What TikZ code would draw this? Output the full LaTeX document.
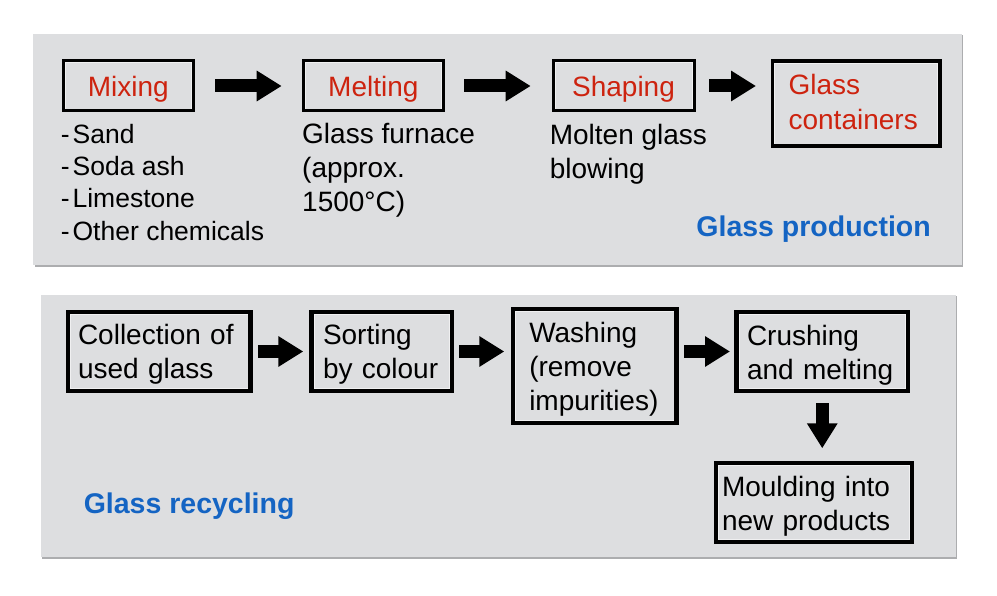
\documentclass[tikz,border=0pt]{standalone}
\usepackage{fontspec}
\setmainfont{Liberation Sans}
\usetikzlibrary{arrows.meta}
\definecolor{panelgray}{RGB}{221,222,224}
\definecolor{shadegray}{RGB}{172,173,175}
\definecolor{stagered}{RGB}{205,35,15}
\definecolor{titleblue}{RGB}{20,100,195}
\tikzset{
  rim/.style={path picture={\draw[white!55!panelgray, line width=0.8pt] ([shift={(#1,#1)}]path picture bounding box.south west) rectangle ([shift={(-#1,-#1)}]path picture bounding box.north east);}},
  stage/.style={draw, line width=4.4pt, inner ysep=0pt, text depth=32pt, align=left, font=\fontsize{28}{34}\selectfont, rim=2.6pt},
  topstage/.style={stage, line width=3pt, rim=1.9pt, text depth=0pt, text=stagered, align=center},
  desc/.style={anchor=north west, inner sep=0pt, align=left, font=\fontsize{28}{34}\selectfont},
  title/.style={inner sep=0pt, text=titleblue, font=\fontsize{28.5}{34}\selectfont\bfseries},
  flow/.style={line width=13pt, -{Triangle[length=25pt,width=29pt]}}
}
\begin{document}
\begin{tikzpicture}[line cap=butt,line join=miter,x=1pt,y=-1pt]
\useasboundingbox (0,0) rectangle (997,596);
\fill[shadegray] (34.8,35.5) rectangle (963,267.5);
\fill[panelgray] (33.3,34) rectangle (961.5,265.5);
\fill[shadegray] (42,296.5) rectangle (957,558.5);
\fill[panelgray] (40.5,295) rectangle (955.5,557);

\node[topstage, minimum width=130.5pt, minimum height=50pt] (mix) at (128.25,86) {Mixing};
\node[topstage, minimum width=139.3pt, minimum height=50pt] (melt) at (373.35,86) {Melting};
\node[topstage, minimum width=141pt, minimum height=50pt] (shape) at (623.5,86) {Shaping};
\node[topstage, line width=3.6pt, rim=2.2pt, align=left, font=\fontsize{28}{35}\selectfont, text depth=37.7pt, minimum width=167.4pt, minimum height=85.3pt, text width=134.8pt, inner xsep=16.3pt] (cont) at (856,103.65) {Glass\\containers};
\node[desc, font=\fontsize{26.5}{32.2}\selectfont] (mixlist) at (60.6,124) {-\hspace{3pt}Sand\\-\hspace{3pt}Soda ash\\-\hspace{3pt}Limestone\\-\hspace{3pt}Other chemicals};
\node[desc] (meltdesc) at (302,123) {Glass furnace\\(approx.\\1500°C)};
\node[desc] (shapedesc) at (549.6,124) {Molten glass\\blowing};
\node[title, anchor=base east] (prodtitle) at (931,237) {Glass production};

\draw[flow, shorten <=20pt, shorten >=20.5pt] (mix) -- (melt);
\draw[flow, shorten <=19.5pt, shorten >=20.8pt] (melt) -- (shape);
\draw[flow, shorten <=13.8pt, shorten >=14.5pt] (shape.east) -- (shape.east -| cont.west);

\node[stage, minimum width=182.5pt, minimum height=79pt, text width=162.5pt, inner xsep=10pt, text depth=33.4pt] (coll) at (159.25,351.5) {Collection of\\used glass};
\node[stage, minimum width=140.4pt, minimum height=79pt, text width=117pt, inner xsep=11.7pt, text depth=33.4pt] (sort) at (381.5,351.5) {Sorting\\by colour};
\node[stage, minimum width=163.5pt, minimum height=114pt, text width=131pt, inner xsep=16.25pt, text depth=66.4pt] (wash) at (594.75,366) {Washing\\(remove\\impurities)};
\node[stage, minimum width=171.5pt, minimum height=79pt, text width=150.5pt, inner xsep=10.5pt, text depth=31.4pt] (crush) at (822.25,351.5) {Crushing\\and melting};
\node[stage, minimum width=195.9pt, minimum height=79pt, text width=183.5pt, inner xsep=6.2pt, text depth=31.4pt] (mould) at (813.75,502.5) {Moulding into\\new products};
\node[title, anchor=base west] (rectitle) at (83.6,513.5) {Glass recycling};

\draw[flow, shorten <=5.6pt, shorten >=5.8pt] (coll) -- (sort);
\draw[flow, shorten <=5.1pt, shorten >=6.5pt] (sort.east) -- (sort.east -| wash.west);
\draw[flow, shorten <=5.3pt, shorten >=4.3pt] (crush.west -| wash.east) -- (crush.west);
\draw[flow, shorten <=10.1pt, shorten >=12.5pt] (crush.south) -- (crush.south |- mould.north);
\end{tikzpicture}
\end{document}
